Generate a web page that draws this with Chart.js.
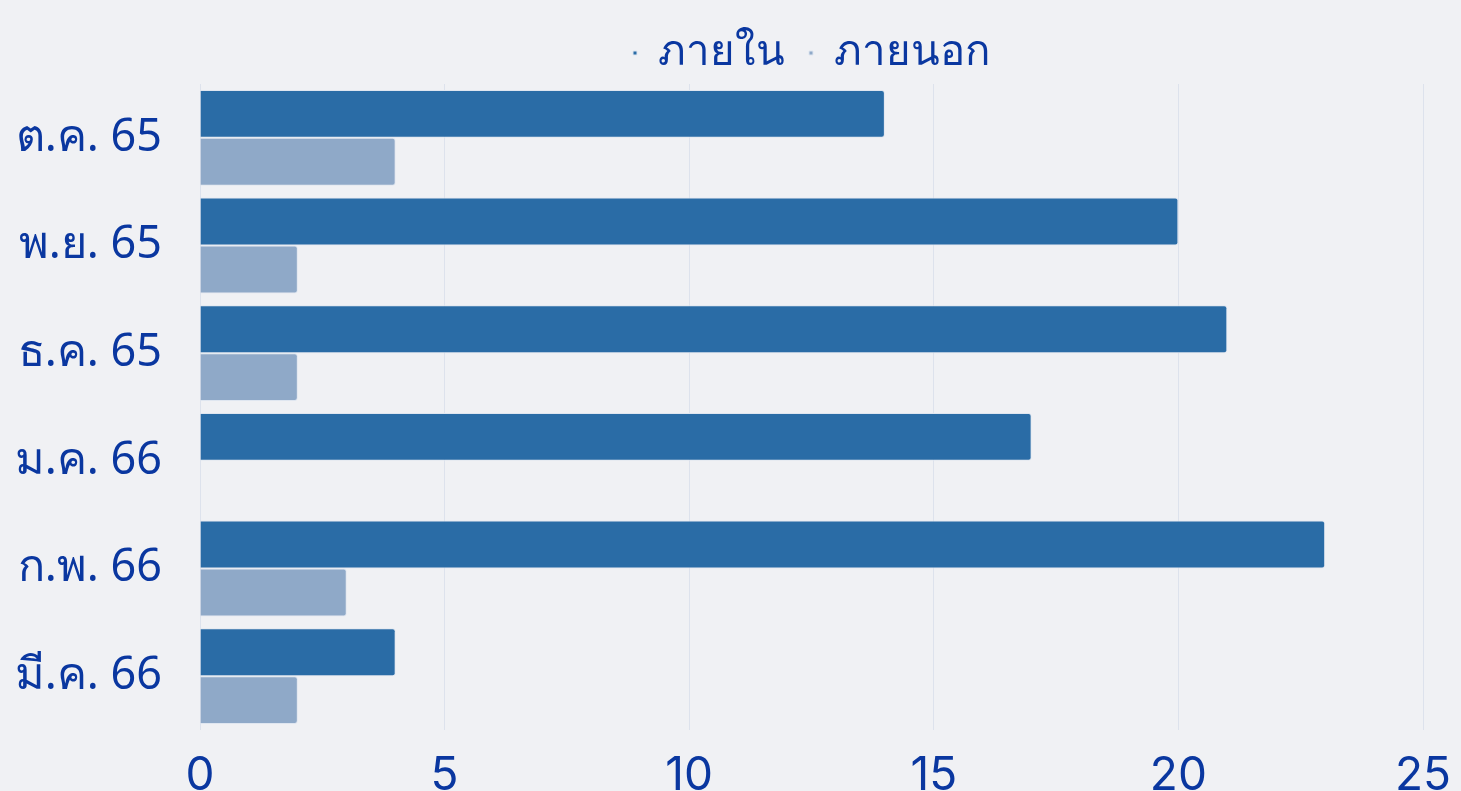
<!DOCTYPE html>
<html><head><meta charset="utf-8">
<script src="https://cdn.jsdelivr.net/npm/chart.js@4/dist/chart.umd.min.js"></script>
<style>html,body{margin:0;padding:0;background:#f0f1f4;}#wrap{width:1461px;height:791px;}</style>
</head><body><div id="wrap"><canvas id="c" width="1461" height="791"></canvas></div>
<script>
const categories = ["ต.ค. 65","พ.ย. 65","ธ.ค. 65","ม.ค. 66","ก.พ. 66","มี.ค. 66"];
const seriesNames = ["ภายใน","ภายนอก"];
const inside = [14,20,21,17,23,4];
const outside = [4,2,2,0,3,2];
const xTicks = [0,5,10,15,20,25];
const textColor = "#0a37a0";
const ctx = document.getElementById('c');
new Chart(ctx, {
  type: 'bar',
  data: {
    labels: categories,
    datasets: [
      {label: seriesNames[0], data: inside, backgroundColor: '#2a6ca6', borderColor: '#dfe6f0', borderWidth: 1, borderRadius: 3, borderSkipped: 'start'},
      {label: seriesNames[1], data: outside, backgroundColor: '#8fa9c8', borderColor: '#dfe6f0', borderWidth: 1, borderRadius: 3, borderSkipped: 'start'}
    ]
  },
  options: {
    indexAxis: 'y',
    responsive: false,
    animation: false,
    maintainAspectRatio: false,
    layout: {padding: {left: 0, right: 38, top: 8, bottom: 0}},
    datasets: {bar: {categoryPercentage: 0.89, barPercentage: 1.0}},
    plugins: {
      legend: {
        position: 'top',
        fullSize: false,
        labels: {color: textColor, boxWidth: 4, boxHeight: 4, padding: 24, font: {family: "'Noto Sans', sans-serif", size: 42}}
      },
      tooltip: {enabled: false}
    },
    scales: {
      x: {
        min: xTicks[0], max: xTicks[xTicks.length-1],
        afterBuildTicks: (s) => { s.ticks = xTicks.map(v => ({value: v})); },
        ticks: {padding: 19, color: textColor, font: {family: "'Inter', sans-serif", size: 46}},
        grid: {color: '#dde2ec', drawTicks: false},
        border: {display: false},
        afterFit: (s) => { s.height = 61; s.paddingLeft = 0; s.paddingRight = 0; }
      },
      y: {
        ticks: {padding: 38, color: textColor, font: {family: "'Noto Sans', sans-serif", size: 45}},
        grid: {display: false, drawTicks: false},
        border: {display: false},
        afterFit: (s) => { s.width = 200; s.paddingTop = 0; s.paddingBottom = 0; }
      }
    }
  },
  plugins: [{id:'bg', beforeDraw(c){const g=c.ctx; g.save(); g.fillStyle='#f0f1f4'; g.fillRect(0,0,c.width,c.height); g.restore();}}]
});
</script></body></html>
